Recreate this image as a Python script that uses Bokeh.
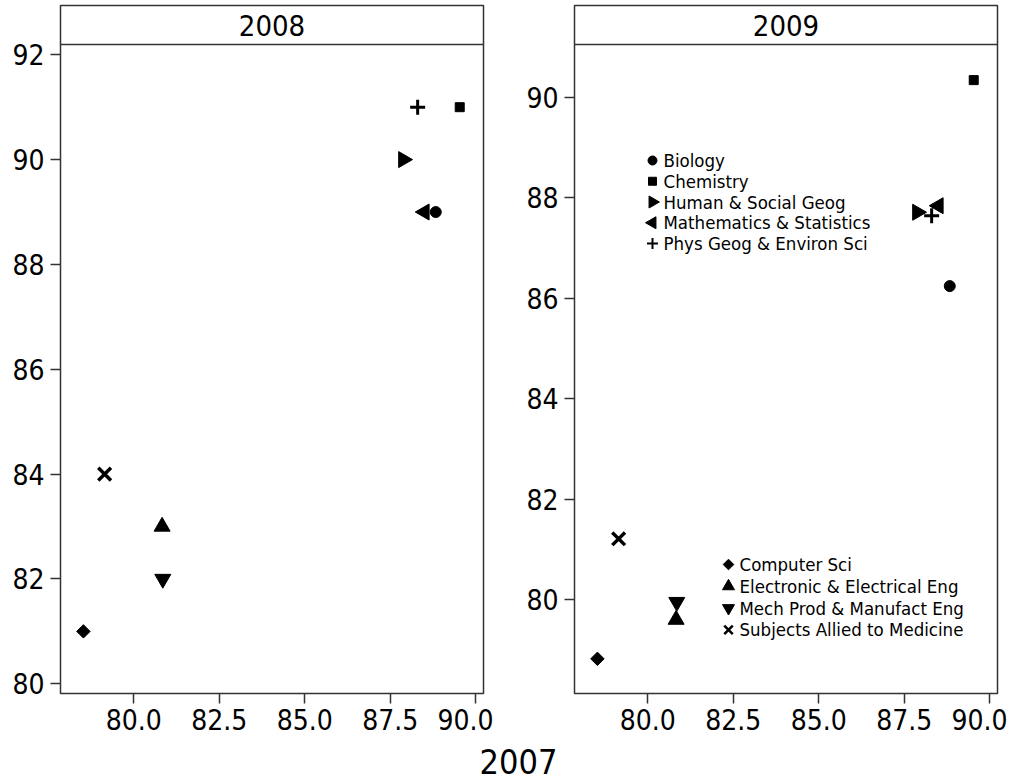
import math
from bokeh.plotting import figure
from bokeh.models import Range1d, FixedTicker, Span, ColumnDataSource, PrintfTickFormatter
from bokeh.layouts import row, column
from bokeh.embed import file_html
from bokeh.resources import INLINE
from bokeh.core.properties import value

# ---------------- data ----------------
subjects = ["Biology", "Chemistry", "Human & Social Geog", "Mathematics & Statistics",
            "Phys Geog & Environ Sci", "Computer Sci", "Electronic & Electrical Eng",
            "Mech Prod & Manufact Eng", "Subjects Allied to Medicine"]
x_2007 = [88.83, 89.53, 87.88, 88.50, 88.30, 78.53, 80.83, 80.85, 79.15]
y_2008 = [89.0, 91.0, 90.0, 89.0, 91.0, 81.0, 83.0, 82.0, 84.0]
y_2009 = [86.24, 90.34, 87.71, 87.84, 87.64, 78.82, 79.60, 79.95, 81.21]
panel_titles = ["2008", "2009"]
x_axis_title = "2007"
x_ticks = [80.0, 82.5, 85.0, 87.5, 90.0]
y_ticks_2008 = [80, 82, 84, 86, 88, 90, 92]
y_ticks_2009 = [80, 82, 84, 86, 88, 90]
legend_groups = [[0, 1, 2, 3, 4], [5, 6, 7, 8]]

# ---------------- styles ----------------
markers = ["circle", "square", "triangle", "triangle", "cross",
           "square", "triangle", "inverted_triangle", "x"]
angles = [0, 0, -math.pi / 2, math.pi / 2, 0, math.pi / 4, 0, 0, 0]
sizes = [11, 9, 16, 16, 15, 9.5, 16, 16, 18]
line_widths = [1, 1, 1, 1, 3, 1, 1, 1, 3.5]
leg_sizes = [9, 8, 12, 12, 11, 7.5, 12, 12, 12]
leg_line_widths = [1, 1, 1, 1, 2, 1, 1, 1, 2.5]

FONT = "DejaVu Sans Condensed"
FRAME_W, FRAME_H, STRIP_PX = 423, 688, 39
X_LO, X_HI = 77.86, 90.225
EDGE = "#333333"
# key layout: (marker x from frame left, first row y from frame bottom, row step), pixels
LEGEND_LAYOUT = [(78, 533, 20.75), (154, 129, 21.8)]
LEG_TEXT_DX = 11


def make_panel(title, yvals, ylo, yhi, yticks, border_left):
    px_per_unit = (FRAME_H - STRIP_PX) / (yhi - ylo)
    ytop = yhi + STRIP_PX / px_per_unit
    p = figure(frame_width=FRAME_W, frame_height=FRAME_H,
               x_range=Range1d(X_LO, X_HI), y_range=Range1d(ylo, ytop),
               output_backend="svg", toolbar_location=None,
               min_border_left=border_left, min_border_right=10,
               min_border_top=5, min_border_bottom=48)
    p.grid.visible = False
    p.outline_line_color = EDGE
    p.outline_line_width = 1.5
    p.background_fill_color = "white"
    p.border_fill_color = "white"

    p.xaxis.ticker = FixedTicker(ticks=x_ticks)
    p.xaxis.formatter = PrintfTickFormatter(format="%.1f")
    p.yaxis.ticker = FixedTicker(ticks=yticks)
    for ax in (p.xaxis, p.yaxis):
        ax.axis_line_color = None
        ax.major_tick_line_color = EDGE
        ax.major_tick_line_width = 1.5
        ax.major_tick_out = 10
        ax.major_tick_in = 0
        ax.minor_tick_line_color = None
        ax.major_label_text_font = FONT
        ax.major_label_text_font_size = "28px"
        ax.major_label_text_color = "black"
    p.xaxis.major_label_standoff = 5
    p.yaxis.major_label_standoff = 6

    # strip with panel title
    p.add_layout(Span(location=yhi, dimension="width", line_color=EDGE, line_width=1.5))
    p.text(x=[(X_LO + X_HI) / 2], y=[(yhi + ytop) / 2], text=[title],
           text_align="center", text_baseline="middle",
           text_font=value(FONT), text_font_size="29px", text_color="black")

    src = ColumnDataSource(dict(x=x_2007, y=yvals, marker=markers, angle=angles,
                                size=sizes, lw=line_widths, label=subjects))
    p.scatter("x", "y", marker="marker", angle="angle", size="size",
              line_width="lw", fill_color="black", line_color="black", source=src)
    return p, ylo, px_per_unit


p1, _, _ = make_panel(panel_titles[0], y_2008, 79.815, 92.196, y_ticks_2008, 60)
p2, ylo2, ypx2 = make_panel(panel_titles[1], y_2009, 78.13, 91.049, y_ticks_2009, 81)

# in-panel key (two groups), pixel offsets converted through the panel's scales
xpx = FRAME_W / (X_HI - X_LO)
for grp, (mx, my0, step) in zip(legend_groups, LEGEND_LAYOUT):
    lx, ly, tx, lm, la, ls, lw, lt = [], [], [], [], [], [], [], []
    for k, i in enumerate(grp):
        yy = ylo2 + (my0 - k * step) / ypx2
        lx.append(X_LO + mx / xpx)
        tx.append(X_LO + (mx + LEG_TEXT_DX) / xpx)
        ly.append(yy)
        lm.append(markers[i]); la.append(angles[i]); ls.append(leg_sizes[i])
        lw.append(leg_line_widths[i]); lt.append(subjects[i])
    ksrc = ColumnDataSource(dict(x=lx, y=ly, tx=tx, marker=lm, angle=la, size=ls, lw=lw, text=lt))
    p2.scatter("x", "y", marker="marker", angle="angle", size="size", line_width="lw",
               fill_color="black", line_color="black", source=ksrc)
    p2.text("tx", "y", text="text", text_align="left", text_baseline="middle",
            text_font=value(FONT), text_font_size="18.5px", text_color="black", source=ksrc)

# shared x title below both panels
W_TOTAL = (60 + FRAME_W + 10) + (81 + FRAME_W + 10)
H3 = 42
p3 = figure(width=W_TOTAL, height=H3, x_range=Range1d(0, W_TOTAL), y_range=Range1d(0, H3),
            output_backend="svg", toolbar_location=None, min_border=0,
            x_axis_location=None, y_axis_location=None)
p3.grid.visible = False
p3.outline_line_color = None
p3.text(x=[518], y=[22], text=[x_axis_title], text_align="center", text_baseline="middle",
        text_font=value(FONT), text_font_size="34px", text_color="black")

layout = column(row(p1, p2), p3)
open("out.html", "w").write(file_html(layout, INLINE))
